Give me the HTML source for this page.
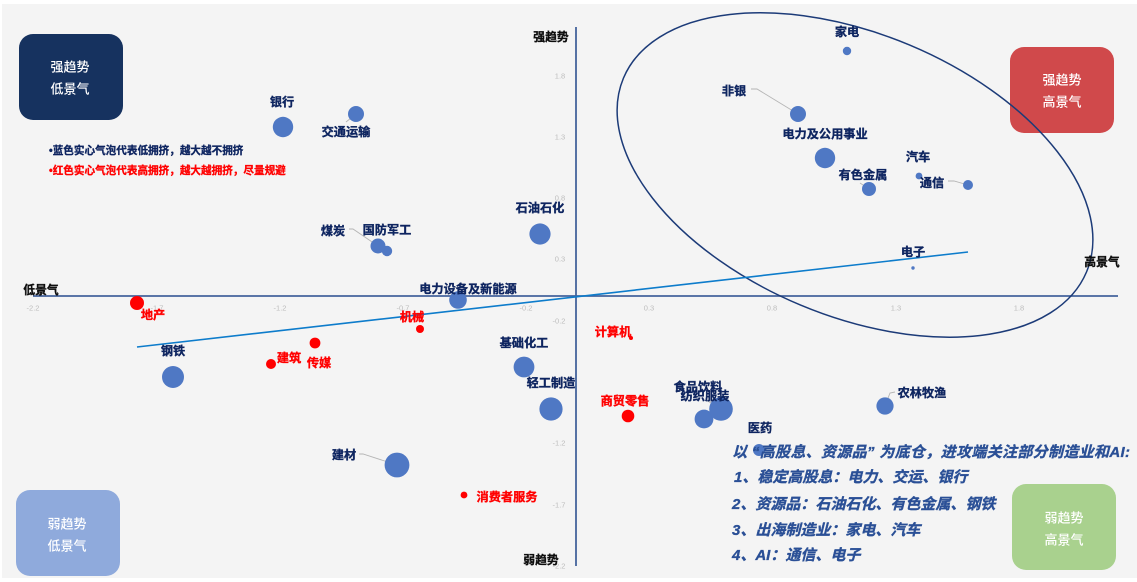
<!DOCTYPE html>
<html><head><meta charset="utf-8">
<style>
html,body{margin:0;padding:0;background:#fff;}
svg{display:block;}
text{font-family:"Liberation Sans","Noto Sans CJK SC",sans-serif;}
.l{font-size:12.2px;font-weight:700;fill:#0f2560;stroke:#0f2560;stroke-width:.35;text-anchor:middle;dominant-baseline:central;}
.r{font-size:12.2px;font-weight:700;fill:#ff0000;stroke:#ff0000;stroke-width:.35;text-anchor:middle;dominant-baseline:central;}
.k{font-size:11.8px;font-weight:700;fill:#111;stroke:#111;stroke-width:.35;text-anchor:middle;dominant-baseline:central;}
.t{font-size:7.5px;fill:#bdbdbd;text-anchor:middle;dominant-baseline:central;}
.b{font-size:13px;font-weight:500;fill:#fff;text-anchor:middle;dominant-baseline:central;}
.i{font-size:15px;font-weight:700;font-style:italic;fill:#2a5096;stroke:#2a5096;stroke-width:.35;}
.g{font-size:10.6px;font-weight:700;stroke-width:.3;}
</style></head>
<body>
<svg width="1137" height="582" viewBox="0 0 1137 582" xmlns="http://www.w3.org/2000/svg">
<defs><filter id="s" x="-2%" y="-2%" width="104%" height="104%"><feGaussianBlur stdDeviation="0.35"/></filter></defs>
<rect width="1137" height="582" fill="#fff"/>
<g filter="url(#s)">
<rect x="2" y="4" width="1135" height="574" fill="#f4f4f4"/>

<!-- quadrant boxes -->
<rect x="19" y="34" width="104" height="86" rx="14" fill="#17325f"/>
<text class="b" x="70" y="67">强趋势</text><text class="b" x="70" y="89">低景气</text>
<rect x="1010" y="47" width="104" height="86" rx="14" fill="#d04a4c"/>
<text class="b" x="1062" y="80">强趋势</text><text class="b" x="1062" y="102">高景气</text>
<rect x="16" y="490" width="104" height="86" rx="14" fill="#8faadc"/>
<text class="b" x="67" y="524">弱趋势</text><text class="b" x="67" y="546">低景气</text>
<rect x="1012" y="484" width="104" height="86" rx="14" fill="#a9d18e"/>
<text class="b" x="1064" y="518">弱趋势</text><text class="b" x="1064" y="540">高景气</text>

<!-- ticks -->
<text class="t" x="33" y="308">-2.2</text><text class="t" x="157" y="308">-1.7</text>
<text class="t" x="280" y="308">-1.2</text><text class="t" x="403" y="308">-0.7</text>
<text class="t" x="526" y="308">-0.2</text><text class="t" x="649" y="308">0.3</text>
<text class="t" x="772" y="308">0.8</text><text class="t" x="896" y="308">1.3</text>
<text class="t" x="1019" y="308">1.8</text>
<text class="t" x="560" y="76">1.8</text><text class="t" x="560" y="137">1.3</text>
<text class="t" x="560" y="198">0.8</text><text class="t" x="560" y="259">0.3</text>
<text class="t" x="559" y="321">-0.2</text><text class="t" x="559" y="382">-0.7</text>
<text class="t" x="559" y="443">-1.2</text><text class="t" x="559" y="505">-1.7</text>
<text class="t" x="559" y="566">-2.2</text>

<!-- axes -->
<line x1="33" y1="296" x2="1118" y2="296" stroke="#44639c" stroke-width="1.8"/>
<line x1="576" y1="27" x2="576" y2="566" stroke="#44639c" stroke-width="1.8"/>

<!-- leaders -->
<g stroke="#b5b5b5" stroke-width="0.9" fill="none">
<polyline points="751,89 757,89 798,114"/>
<polyline points="349,229 353,229 378,246"/>
<polyline points="359,454 363,454 397,465"/>
<polyline points="948,181 954,181 968,185"/>
<polyline points="895,392 890,393 885,406"/>
<line x1="346" y1="122" x2="356" y2="114"/>
<line x1="860" y1="183" x2="869" y2="189"/>
<line x1="706" y1="400" x2="721" y2="409"/>
</g>

<!-- bubbles -->
<g fill="#4f78c4">
<circle cx="847" cy="51" r="4.2"/><circle cx="798" cy="114" r="8"/>
<circle cx="825" cy="158" r="10.2"/><circle cx="869" cy="189" r="7"/>
<circle cx="919" cy="176" r="3.4"/><circle cx="968" cy="185" r="5"/>
<circle cx="913" cy="268" r="1.7"/>
<circle cx="283" cy="127" r="10.2"/><circle cx="356" cy="114" r="8"/>
<circle cx="387" cy="251" r="5.2"/><circle cx="378" cy="246" r="7.5"/>
<circle cx="540" cy="234" r="10.6"/><circle cx="458" cy="300" r="8.8"/>
<circle cx="173" cy="377" r="11"/><circle cx="524" cy="367" r="10.4"/>
<circle cx="551" cy="409" r="11.6"/><circle cx="397" cy="465" r="12.4"/>
<circle cx="704" cy="419" r="9.4"/><circle cx="721" cy="409" r="11.8"/>
<circle cx="759" cy="450" r="6"/><circle cx="885" cy="406" r="8.6"/>
</g>
<g fill="#ff0000">
<circle cx="137" cy="303" r="7"/><circle cx="420" cy="329" r="4"/>
<circle cx="315" cy="343" r="5.4"/><circle cx="271" cy="364" r="5"/>
<circle cx="464" cy="495" r="3.4"/><circle cx="628" cy="416" r="6.3"/>
<circle cx="631" cy="338" r="2"/>
</g>

<!-- ellipse & trend -->
<ellipse cx="855" cy="175" rx="251" ry="141" transform="rotate(22.7 855 175)" fill="none" stroke="#1c3a78" stroke-width="1.5"/>
<line x1="137" y1="347" x2="968" y2="252" stroke="#0b7bcb" stroke-width="1.6"/>

<!-- labels -->
<text class="k" x="551" y="37">强趋势</text><text class="k" x="41" y="290">低景气</text>
<text class="k" x="1102" y="262">高景气</text><text class="k" x="541" y="560">弱趋势</text>

<text class="l" x="847" y="32">家电</text><text class="l" x="734" y="91">非银</text>
<text class="l" x="825" y="134">电力及公用事业</text><text class="l" x="918" y="157">汽车</text>
<text class="l" x="863" y="175">有色金属</text><text class="l" x="932" y="183">通信</text>
<text class="l" x="913" y="252">电子</text><text class="l" x="282" y="102">银行</text>
<text class="l" x="346" y="132">交通运输</text><text class="l" x="333" y="231">煤炭</text>
<text class="l" x="387" y="230">国防军工</text><text class="l" x="540" y="208">石油石化</text>
<text class="l" x="468" y="289">电力设备及新能源</text><text class="l" x="173" y="351">钢铁</text>
<text class="l" x="524" y="343">基础化工</text><text class="l" x="551" y="383">轻工制造</text>
<text class="l" x="344" y="455">建材</text><text class="l" x="698" y="387">食品饮料</text>
<text class="l" x="705" y="396">纺织服装</text><text class="l" x="760" y="428">医药</text>
<text class="l" x="922" y="393">农林牧渔</text>

<text class="r" x="153" y="315">地产</text><text class="r" x="412" y="317">机械</text>
<text class="r" x="319" y="363">传媒</text><text class="r" x="289" y="358">建筑</text>
<text class="r" x="507" y="497">消费者服务</text><text class="r" x="625" y="401">商贸零售</text>
<text class="r" x="613" y="332">计算机</text>

<!-- legend -->
<text class="g" x="49" y="154" fill="#0f2560" stroke="#0f2560">•蓝色实心气泡代表低拥挤，越大越不拥挤</text>
<text class="g" x="49" y="174" fill="#ff0000" stroke="#ff0000">•红色实心气泡代表高拥挤，越大越拥挤，尽量规避</text>

<!-- note -->
<text class="i" x="732" y="457" xml:space="preserve" textLength="398" lengthAdjust="spacing">以 “高股息、资源品” 为底仓，进攻端关注部分制造业和AI:</text>
<text class="i" x="734" y="482">1、稳定高股息：电力、交运、银行</text>
<text class="i" x="732" y="509">2、资源品：石油石化、有色金属、钢铁</text>
<text class="i" x="732" y="535">3、出海制造业：家电、汽车</text>
<text class="i" x="732" y="560">4、AI：通信、电子</text>
</g>
</svg>
</body></html>
